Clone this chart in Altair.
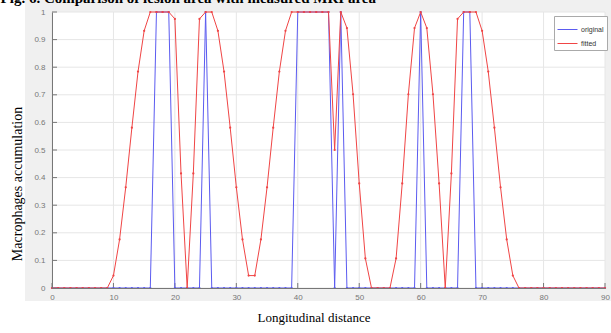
import altair as alt
import pandas as pd

# ---- data ----
xs = list(range(91))
original_ones = [17, 18, 19, 25, 40, 41, 42, 43, 44, 45, 47, 60, 67, 68]
original = [1 if v in original_ones else 0 for v in xs]
fitted = (
    [0] * 10
    + [0.045, 0.176, 0.365, 0.581, 0.784, 0.932, 1, 1, 1, 1,      # 10-19
       0.975, 0.415, 0, 0.415, 0.975, 1, 1, 0.932, 0.784, 0.581,  # 20-29
       0.365, 0.176, 0.045, 0.045, 0.176, 0.365, 0.581, 0.784, 0.932, 1,  # 30-39
       1, 1, 1, 1, 1, 1, 0.5, 1, 0.942, 0.702,                    # 40-49
       0.379, 0.107, 0, 0, 0, 0, 0.107, 0.379, 0.702, 0.942,      # 50-59
       1, 0.942, 0.702, 0.379, 0, 0.415, 0.975, 1, 1, 1,          # 60-69
       0.932, 0.784, 0.581, 0.365, 0.176, 0.045]                  # 70-75
    + [0] * 15
)
series_names = ["original", "fitted"]
series_colors = ["#5b5bf0", "#f04545"]
x_ticks = [0, 10, 20, 30, 40, 50, 60, 70, 80, 90]
y_ticks = [0, 0.1, 0.2, 0.3, 0.4, 0.5, 0.6, 0.7, 0.8, 0.9, 1]
x_title = "Longitudinal distance"
y_title = "Macrophages accumulation"
caption = "Fig. 6. Comparison of lesion area with measured MRI area"

W, H = 553, 276

df = pd.DataFrame({
    "x": xs * 2,
    "value": original + fitted,
    "series": ["original"] * len(xs) + ["fitted"] * len(xs),
})
one = pd.DataFrame({"a": [0]})
xt = pd.DataFrame({"t": x_ticks})
yt = pd.DataFrame({"t": y_ticks})

xscale = alt.Scale(domain=[0, 90], nice=False, zero=False)
yscale = alt.Scale(domain=[0, 1], nice=False)
cscale = alt.Scale(domain=series_names, range=series_colors)

xaxis = alt.Axis(values=x_ticks, title=None, grid=False, ticks=False, domain=True,
                 domainColor="#777", labelColor="#777", labelFont="Liberation Sans",
                 labelFontSize=8, labelPadding=5, zindex=1, labelFlush=False,
                 labelOverlap=False)
yaxis = alt.Axis(values=y_ticks, title=None, grid=False, ticks=False, domain=True,
                 domainColor="#777", labelColor="#777", labelFont="Liberation Sans",
                 labelFontSize=8, labelPadding=7, format="~g", zindex=1,
                 labelOverlap=False, labelFlush=False)

# gray figure panel + white axes area
panel = alt.Chart(one).mark_rect(color="#f0f0f0").encode(
    x=alt.value(-27), x2=alt.value(W + 6), y=alt.value(-12), y2=alt.value(H + 13)
)
white = alt.Chart(one).mark_rect(color="white").encode(
    x=alt.value(0), x2=alt.value(W), y=alt.value(0), y2=alt.value(H)
)

# grid lines
vgrid = alt.Chart(xt).mark_rule(color="#e6e6e6", strokeWidth=1).encode(
    x=alt.X("t:Q", scale=xscale, axis=xaxis), y=alt.value(0), y2=alt.value(H)
)
hgrid = alt.Chart(yt).mark_rule(color="#e6e6e6", strokeWidth=1).encode(
    y=alt.Y("t:Q", scale=yscale, axis=yaxis), x=alt.value(0), x2=alt.value(W)
)

# inward ticks
xtick = alt.Chart(xt).mark_rule(color="#777", strokeWidth=1).encode(
    x=alt.X("t:Q", scale=xscale, axis=xaxis), y=alt.value(H), y2=alt.value(H - 5)
)
ytick = alt.Chart(yt).mark_rule(color="#777", strokeWidth=1).encode(
    y=alt.Y("t:Q", scale=yscale, axis=yaxis), x=alt.value(0), x2=alt.value(5)
)

legend = alt.Legend(title=None, orient="none", legendX=502, legendY=4,
                    symbolType="stroke", symbolSize=400, symbolStrokeWidth=1,
                    labelFontSize=7, labelFont="Liberation Sans", labelColor="#333",
                    fillColor="white", strokeColor="#aaaaaa", padding=3,
                    rowPadding=0, labelOffset=3, cornerRadius=0)


def series_layer(name, show_legend):
    return alt.Chart(df).transform_filter(alt.datum.series == name).mark_line(
        strokeWidth=1,
        point=alt.OverlayMarkDef(size=5, filled=True),
    ).encode(
        x=alt.X("x:Q", scale=xscale, axis=xaxis),
        y=alt.Y("value:Q", scale=yscale, axis=yaxis),
        color=alt.Color("series:N", scale=cscale,
                        legend=legend if show_legend else None,
                        sort=series_names),
    )


blue = series_layer("original", True)
red = series_layer("fitted", False)

xtitle = alt.Chart(one).mark_text(font="Liberation Serif", fontSize=13, color="black",
                                  align="center", baseline="alphabetic").encode(
    x=alt.value(262), y=alt.value(310), text=alt.value(x_title)
)
ytitle = alt.Chart(one).mark_text(font="Liberation Serif", fontSize=14, color="black",
                                  align="center", baseline="middle", angle=270).encode(
    x=alt.value(-34), y=alt.value(172), text=alt.value(y_title)
)
cap = alt.Chart(one).mark_text(font="Liberation Serif", fontSize=15, fontWeight="bold",
                               color="black", align="right", baseline="alphabetic").encode(
    x=alt.value(324), y=alt.value(-9), text=alt.value(caption)
)

chart = alt.layer(
    panel, white, vgrid, hgrid, xtick, ytick, blue, red, xtitle, ytitle, cap
).properties(
    width=W, height=H,
    autosize=alt.AutoSizeParams(type="none"),
    padding={"left": 52, "top": 12, "right": 6, "bottom": 45},
    background="white",
).configure_view(stroke=None)

chart.save("out.html", embed_options={"renderer": "svg", "actions": False})
